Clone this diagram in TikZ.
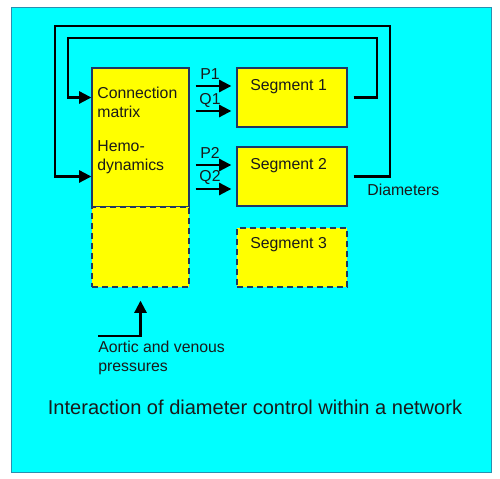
\documentclass[tikz,border=0pt]{standalone}
\usepackage{fontspec}
\setmainfont{Liberation Sans}
\usetikzlibrary{arrows.meta,positioning}
\definecolor{bgcyan}{HTML}{00FFFF}
\definecolor{bgedge}{HTML}{2A8FB0}
\definecolor{boxyellow}{HTML}{FFFF00}
\definecolor{boxedge}{HTML}{203864}
\definecolor{txtgray}{HTML}{1A1A1A}

\begin{document}
\begin{tikzpicture}[x=0.02cm, y=-0.02cm]
\tikzstyle{block} = [rectangle, draw=boxedge, line width=0.8pt, fill=boxyellow, inner sep=0pt]
\tikzstyle{dashblock} = [block, dash pattern=on 0.12cm off 0.08cm]
\tikzstyle{lbl} = [inner sep=0pt, text=txtgray, font=\fontsize{9pt}{10.8pt}\selectfont, align=left]
\tikzstyle{arrow} = [line width=1.2pt, -{Triangle[length=7pt,width=7pt]}]

\useasboundingbox (0,0) rectangle (500,479);
\fill[bgcyan, draw=bgedge, line width=0.5pt] (11,7) rectangle (491,472);

% boxes
\node (hemo) [block, minimum width=1.94cm, minimum height=2.78cm] at (140.5,137.5) {};
\node (pres) [dashblock, minimum width=1.94cm, minimum height=1.6cm] at (140.5,247) {};
\node (seg1) [block, minimum width=2.2cm, minimum height=1.18cm] at (292,97.5) {};
\node (seg2) [block, minimum width=2.2cm, minimum height=1.18cm] at (292,176.5) {};
\node (seg3) [dashblock, minimum width=2.2cm, minimum height=1.18cm] at (292,257.5) {};

% texts
\node (cmtxt) [lbl, anchor=west] at (97,102.5) {Connection\\matrix};
\node (hdtxt) [lbl, anchor=west] at (97,157) {Hemo-\\dynamics};
\node (seg1txt) [lbl, anchor=west] at (250,87) {Segment 1};
\node (seg2txt) [lbl, anchor=west] at (250,166) {Segment 2};
\node (seg3txt) [lbl, anchor=west] at (250,245) {Segment 3};
\node (p1) [lbl] at (210,74) {P1};
\node (q1) [lbl] at (210,100) {Q1};
\node (p2) [lbl] at (210,153) {P2};
\node (q2) [lbl] at (210,177) {Q2};
\node (diam) [lbl, anchor=west] at (367,190) {Diameters};
\node (aortic) [lbl, anchor=west] at (98,357.5) {Aortic and venous\\pressures};
\node (title) [inner sep=0pt, text=txtgray, font=\fontsize{11.4pt}{13pt}\selectfont] at (255,407) {Interaction of diameter control within a network};

% flows
\draw [arrow, shorten <=0.12cm, shorten >=0.1cm] ([yshift=0.23cm]hemo.east |- seg1.west) -- ([yshift=0.23cm]seg1.west);
\draw [arrow, shorten <=0.12cm, shorten >=0.1cm] ([yshift=-0.27cm]hemo.east |- seg1.west) -- ([yshift=-0.27cm]seg1.west);
\draw [arrow, shorten <=0.12cm, shorten >=0.1cm] ([yshift=0.23cm]hemo.east |- seg2.west) -- ([yshift=0.23cm]seg2.west);
\draw [arrow, shorten <=0.12cm, shorten >=0.1cm] ([yshift=-0.25cm]hemo.east |- seg2.west) -- ([yshift=-0.25cm]seg2.west);

% feedback of diameters
\draw [arrow, shorten <=0.12cm] (seg1.east) -| (377,38) -| (68,97.5) -- (hemo.west |- seg1.east);
\draw [arrow, shorten <=0.12cm] (seg2.east) -| (390,26) -| (55,176.5) -- (hemo.west |- seg2.east);

% boundary pressures
\coordinate (presin) at (98,336);
\draw [arrow, shorten >=0.26cm] (presin) -| (pres.south);
\end{tikzpicture}
\end{document}
